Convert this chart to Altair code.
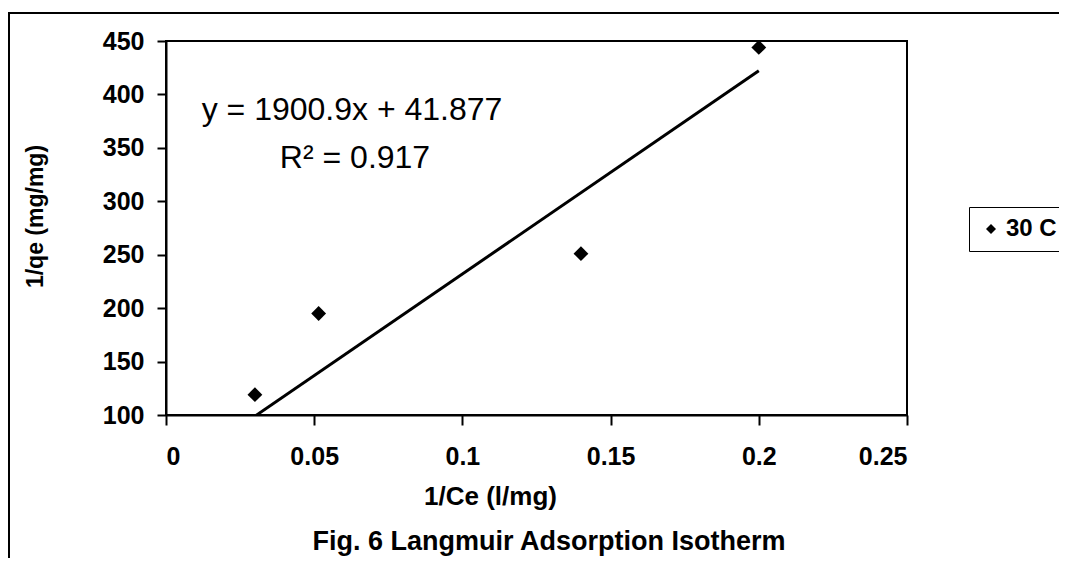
import altair as alt
import pandas as pd

# ---- data ----
inv_ce = [0.03, 0.0515, 0.14, 0.2]
inv_qe = [119, 195, 251, 444]
series_name = ["30 C"] * 4
slope = 1900.9
intercept = 41.877
r_squared = 0.917
x_ticks = [0, 0.05, 0.1, 0.15, 0.2, 0.25]
y_ticks = [100, 150, 200, 250, 300, 350, 400, 450]
eq_label = "y = 1900.9x + 41.877"
r2_label = "R² = 0.917"
caption = "Fig. 6 Langmuir Adsorption Isotherm"

FONT = "Liberation Sans"

pts = pd.DataFrame({"x": inv_ce, "y": inv_qe, "series": series_name})
x_lo, x_hi = min(inv_ce), max(inv_ce)
trend = pd.DataFrame({"x": [x_lo, x_hi], "y": [slope * x_lo + intercept, slope * x_hi + intercept]})

xscale = alt.Scale(domain=[0, 0.25], nice=False, zero=False)
yscale = alt.Scale(domain=[100, 450], nice=False, zero=False)

xaxis = alt.Axis(values=x_ticks, format="~g", title="1/Ce (l/mg)", grid=False,
                 labelFont=FONT, labelFontSize=25, labelFontWeight="bold", labelColor="black",
                 labelPadding=19, tickSize=10, titleFont=FONT, titleFontSize=26,
                 titleFontWeight="bold", titleColor="black", titleX=324, titleY=81,
                 titleBaseline="middle", titleAlign="center")
yaxis = alt.Axis(values=y_ticks, title="1/qe (mg/mg)", grid=False,
                 labelFont=FONT, labelFontSize=25, labelFontWeight="bold", labelColor="black",
                 labelPadding=13, tickSize=9, titleFont=FONT, titleFontSize=23,
                 titleFontWeight="bold", titleColor="black", titleX=-131, titleY=175,
                 titleBaseline="middle", titleAlign="center", titleAngle=270)

frame = alt.Chart(pd.DataFrame({"k": [0]})).mark_rect(
    fillOpacity=0, stroke="black", strokeWidth=2
).encode(x=alt.value(-157), y=alt.value(-28), x2=alt.value(2000), y2=alt.value(1000))

line = alt.Chart(trend).mark_line(color="black", strokeWidth=3, clip=True).encode(
    x=alt.X("x:Q", scale=xscale, axis=xaxis),
    y=alt.Y("y:Q", scale=yscale, axis=yaxis),
)

points = alt.Chart(pts).mark_point(shape="diamond", filled=True, size=220, opacity=1).encode(
    x=alt.X("x:Q", scale=xscale),
    y=alt.Y("y:Q", scale=yscale),
    color=alt.Color("series:N", scale=alt.Scale(range=["black"]),
                    legend=alt.Legend(title=None, orient="none", legendX=803, legendY=166,
                                      strokeColor="black", fillColor="white", padding=10,
                                      labelFont=FONT, labelFontSize=24, labelFontWeight="bold",
                                      labelColor="black", symbolType="diamond", symbolSize=100,
                                      labelOffset=3)),
)

eq = alt.Chart(pd.DataFrame({"t": [eq_label]})).mark_text(
    font=FONT, fontSize=32, color="black", align="center", baseline="alphabetic"
).encode(text="t:N", x=alt.value(186), y=alt.value(79))

r2 = alt.Chart(pd.DataFrame({"t": [r2_label]})).mark_text(
    font=FONT, fontSize=32, color="black", align="center", baseline="alphabetic"
).encode(text="t:N", x=alt.value(189), y=alt.value(127))

cap = alt.Chart(pd.DataFrame({"t": [caption]})).mark_text(
    font=FONT, fontSize=27, fontWeight="bold", color="black", align="center", baseline="alphabetic"
).encode(text="t:N", x=alt.value(383), y=alt.value(509))

chart = alt.layer(frame, line, points, eq, r2, cap).properties(
    width=741, height=374,
    autosize=alt.AutoSizeParams(type="none"),
    padding={"left": 158, "top": 33, "right": 152, "bottom": 143},
).configure_view(stroke="black", strokeWidth=2).configure_axis(
    domainColor="black", domainWidth=2, tickColor="black", tickWidth=2
)

chart.save("out.html", embed_options={"renderer": "svg", "actions": False})
